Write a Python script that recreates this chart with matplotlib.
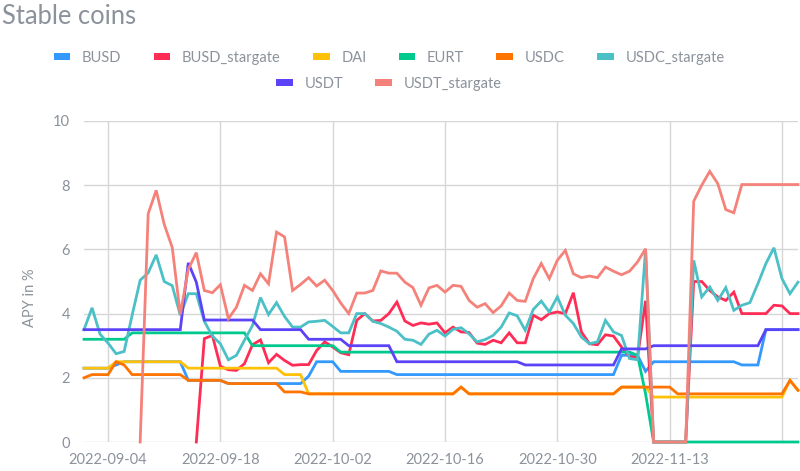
import matplotlib

matplotlib.use("Agg")
import matplotlib.patches as mpatches
import matplotlib.pyplot as plt
import numpy as np
import pandas as pd

nan = np.nan

# daily APY values, 2022-09-01 .. 2022-11-29
dates = pd.date_range("2022-09-01", periods=90, freq="D")

busd = [
    2.3, 2.3, 2.3, 2.3, 2.4, 2.5, 2.5, 2.5, 2.5, 2.5,
    2.5, 2.5, 2.5, 1.92, 1.92, 1.92, 1.92, 1.92, 1.82, 1.82,
    1.82, 1.82, 1.82, 1.82, 1.82, 1.82, 1.82, 1.82, 2.05, 2.5,
    2.5, 2.5, 2.2, 2.2, 2.2, 2.2, 2.2, 2.2, 2.2, 2.1,
    2.1, 2.1, 2.1, 2.1, 2.1, 2.1, 2.1, 2.1, 2.1, 2.1,
    2.1, 2.1, 2.1, 2.1, 2.1, 2.1, 2.1, 2.1, 2.1, 2.1,
    2.1, 2.1, 2.1, 2.1, 2.1, 2.1, 2.1, 2.7, 2.7, 2.7,
    2.2, 2.5, 2.5, 2.5, 2.5, 2.5, 2.5, 2.5, 2.5, 2.5,
    2.5, 2.5, 2.4, 2.4, 2.4, 3.5, 3.5, 3.5, 3.5, 3.5,
]
busd_stargate = [
    nan, nan, nan, nan, nan, nan, nan, nan, nan, nan,
    nan, nan, nan, nan, 0.0, 3.22, 3.32, 2.36, 2.25, 2.23,
    2.44, 3.03, 3.18, 2.47, 2.73, 2.54, 2.39, 2.41, 2.41, 2.85,
    3.12, 2.96, 2.78, 2.72, 3.79, 4.0, 3.77, 3.79, 4.0, 4.36,
    3.77, 3.63, 3.71, 3.67, 3.71, 3.4, 3.58, 3.43, 3.41, 3.08,
    3.04, 3.17, 3.09, 3.4, 3.09, 3.09, 3.95, 3.81, 4.0, 4.05,
    4.0, 4.65, 3.43, 3.06, 3.03, 3.34, 3.3, 2.96, 2.65, 2.65,
    4.4, 0.0, 0.0, 0.0, 0.0, 0.0, 5.0, 5.0, 4.72, 4.52,
    4.41, 4.67, 4.0, 4.0, 4.0, 4.0, 4.26, 4.24, 4.0, 4.0,
]
dai = [
    2.3, 2.3, 2.3, 2.3, 2.5, 2.5, 2.5, 2.5, 2.5, 2.5,
    2.5, 2.5, 2.5, 2.3, 2.3, 2.3, 2.3, 2.3, 2.3, 2.3,
    2.3, 2.3, 2.3, 2.3, 2.3, 2.1, 2.1, 2.1, 1.5, 1.5,
    1.5, 1.5, 1.5, 1.5, 1.5, 1.5, 1.5, 1.5, 1.5, 1.5,
    1.5, 1.5, 1.5, 1.5, 1.5, 1.5, 1.5, 1.71, 1.5, 1.5,
    1.5, 1.5, 1.5, 1.5, 1.5, 1.5, 1.5, 1.5, 1.5, 1.5,
    1.5, 1.5, 1.5, 1.5, 1.5, 1.5, 1.5, 1.71, 1.71, 1.71,
    1.71, 1.4, 1.4, 1.4, 1.4, 1.4, 1.4, 1.4, 1.4, 1.4,
    1.4, 1.4, 1.4, 1.4, 1.4, 1.4, 1.4, 1.4, 1.92, 1.61,
]
eurt = [
    3.2, 3.2, 3.2, 3.2, 3.2, 3.2, 3.4, 3.4, 3.4, 3.4,
    3.4, 3.4, 3.4, 3.4, 3.4, 3.4, 3.4, 3.4, 3.4, 3.4,
    3.4, 3.0, 3.0, 3.0, 3.0, 3.0, 3.0, 3.0, 3.0, 3.0,
    3.0, 3.0, 2.8, 2.8, 2.8, 2.8, 2.8, 2.8, 2.8, 2.8,
    2.8, 2.8, 2.8, 2.8, 2.8, 2.8, 2.8, 2.8, 2.8, 2.8,
    2.8, 2.8, 2.8, 2.8, 2.8, 2.8, 2.8, 2.8, 2.8, 2.8,
    2.8, 2.8, 2.8, 2.8, 2.8, 2.8, 2.8, 2.8, 2.8, 2.7,
    1.5, 0.0, 0.0, 0.0, 0.0, 0.0, 0.0, 0.0, 0.0, 0.0,
    0.0, 0.0, 0.0, 0.0, 0.0, 0.0, 0.0, 0.0, 0.0, 0.0,
]
usdc = [
    2.0, 2.1, 2.1, 2.1, 2.5, 2.4, 2.1, 2.1, 2.1, 2.1,
    2.1, 2.1, 2.1, 1.92, 1.92, 1.92, 1.92, 1.92, 1.82, 1.82,
    1.82, 1.82, 1.82, 1.82, 1.82, 1.56, 1.56, 1.56, 1.5, 1.5,
    1.5, 1.5, 1.5, 1.5, 1.5, 1.5, 1.5, 1.5, 1.5, 1.5,
    1.5, 1.5, 1.5, 1.5, 1.5, 1.5, 1.5, 1.71, 1.5, 1.5,
    1.5, 1.5, 1.5, 1.5, 1.5, 1.5, 1.5, 1.5, 1.5, 1.5,
    1.5, 1.5, 1.5, 1.5, 1.5, 1.5, 1.5, 1.71, 1.71, 1.71,
    1.71, 1.71, 1.71, 1.71, 1.5, 1.5, 1.5, 1.5, 1.5, 1.5,
    1.5, 1.5, 1.5, 1.5, 1.5, 1.5, 1.5, 1.5, 1.92, 1.61,
]
usdc_stargate = [
    3.5, 4.18, 3.36, 3.08, 2.75, 2.82, 3.95, 5.04, 5.27, 5.83,
    5.0, 4.87, 3.95, 4.62, 4.62, 3.76, 3.3, 3.06, 2.56, 2.7,
    3.17, 3.63, 4.5, 3.97, 4.34, 3.91, 3.58, 3.58, 3.74, 3.76,
    3.79, 3.6, 3.4, 3.4, 4.0, 4.0, 3.76, 3.69, 3.58, 3.45,
    3.2, 3.17, 3.04, 3.36, 3.48, 3.3, 3.51, 3.56, 3.37, 3.12,
    3.19, 3.32, 3.58, 4.02, 3.93, 3.48, 4.13, 4.39, 4.05, 4.52,
    3.95, 3.69, 3.27, 3.06, 3.12, 3.79, 3.43, 3.32, 2.6, 2.56,
    6.0, 0.0, 0.0, 0.0, 0.0, 0.0, 5.66, 4.52, 4.83, 4.41,
    4.81, 4.1, 4.26, 4.34, 4.93, 5.56, 6.05, 5.09, 4.62, 4.98,
]
usdt = [
    3.5, 3.5, 3.5, 3.5, 3.5, 3.5, 3.5, 3.5, 3.5, 3.5,
    3.5, 3.5, 3.5, 5.58, 4.98, 3.8, 3.8, 3.8, 3.8, 3.8,
    3.8, 3.8, 3.5, 3.5, 3.5, 3.5, 3.5, 3.5, 3.2, 3.2,
    3.2, 3.2, 3.2, 3.0, 3.0, 3.0, 3.0, 3.0, 3.0, 2.5,
    2.5, 2.5, 2.5, 2.5, 2.5, 2.5, 2.5, 2.5, 2.5, 2.5,
    2.5, 2.5, 2.5, 2.5, 2.5, 2.4, 2.4, 2.4, 2.4, 2.4,
    2.4, 2.4, 2.4, 2.4, 2.4, 2.4, 2.4, 2.9, 2.9, 2.9,
    2.9, 3.0, 3.0, 3.0, 3.0, 3.0, 3.0, 3.0, 3.0, 3.0,
    3.0, 3.0, 3.0, 3.0, 3.0, 3.5, 3.5, 3.5, 3.5, 3.5,
]
usdt_stargate = [
    nan, nan, nan, nan, nan, nan, nan, 0.0, 7.11, 7.84,
    6.78, 6.06, 3.97, 5.38, 5.9, 4.72, 4.65, 4.9, 3.84, 4.2,
    4.88, 4.72, 5.24, 4.93, 6.54, 6.39, 4.72, 4.91, 5.12, 4.86,
    5.04, 4.72, 4.33, 4.0, 4.64, 4.64, 4.72, 5.33, 5.26, 5.26,
    4.98, 4.81, 4.26, 4.8, 4.88, 4.67, 4.88, 4.85, 4.41, 4.2,
    4.31, 4.03, 4.24, 4.64, 4.41, 4.38, 5.09, 5.56, 5.09, 5.66,
    5.97, 5.24, 5.12, 5.17, 5.12, 5.45, 5.32, 5.21, 5.32, 5.61,
    6.02, 0.0, 0.0, 0.0, 0.0, 0.0, 7.5, 8.0, 8.43, 8.05,
    7.24, 7.14, 8.02, 8.02, 8.02, 8.02, 8.02, 8.02, 8.02, 8.02,
]

series_names = ["BUSD", "BUSD_stargate", "DAI", "EURT", "USDC",
                "USDC_stargate", "USDT", "USDT_stargate"]
series_values = [busd, busd_stargate, dai, eurt, usdc,
                 usdc_stargate, usdt, usdt_stargate]
colors = ["#3399ff", "#ff2d55", "#ffc107", "#00c98d", "#ff7400",
          "#4bc0c6", "#5b43f7", "#f5827a"]

x_ticks = pd.date_range("2022-09-04", periods=7, freq="14D")
x_tick_labels = ["2022-09-04", "2022-09-18", "2022-10-02", "2022-10-16",
                 "2022-10-30", "2022-11-13", ""]
y_ticks = [0, 2, 4, 6, 8, 10]

TEXT_GRAY = "#8c929b"
GRID_GRAY = "#d6d6d6"

plt.rcParams["font.family"] = ["Lato", "DejaVu Sans"]

fig = plt.figure(figsize=(8.0, 4.71), dpi=100)
ax = fig.add_axes([84 / 800, 1 - 442 / 471, 714 / 800, 321 / 471])

for name, values, color in zip(series_names, series_values, colors):
    ax.plot(dates, values, color=color, linewidth=2.0, label=name,
            clip_on=False, solid_joinstyle="miter")

ax.set_xlim(dates[0], dates[-1])
ax.set_ylim(0, 10)
ax.set_xticks(x_ticks)
ax.set_xticklabels(x_tick_labels)
ax.set_yticks(y_ticks)

ax.set_axisbelow(True)
ax.grid(True, color=GRID_GRAY, linewidth=1.0)
for spine in ax.spines.values():
    spine.set_visible(False)
ax.tick_params(length=0, colors=TEXT_GRAY, labelsize=10.5)
ax.tick_params(axis="x", pad=8)
ax.tick_params(axis="y", pad=10)

ax.set_ylabel("APY in %", color=TEXT_GRAY, fontsize=10.5)
ax.yaxis.set_label_coords(-0.066, 0.45)

fig.text(0.002, 1 - 16 / 471, "Stable coins", fontsize=18.4, color=TEXT_GRAY,
         ha="left", va="center")

# legend in two rows: six entries, then two
handles = [mpatches.Patch(facecolor=c, edgecolor="none") for c in colors]
legend_kw = dict(frameon=False, loc="center", fontsize=10.5,
                 handlelength=1.15, handleheight=0.4, handletextpad=0.8,
                 columnspacing=2.2, labelcolor=TEXT_GRAY)
fig.legend(handles[:6], series_names[:6], ncol=6,
           bbox_to_anchor=(389 / 800, 1 - 58 / 471), **legend_kw)
fig.legend(handles[6:], series_names[6:], ncol=2,
           bbox_to_anchor=(389 / 800, 1 - 84 / 471), **legend_kw)

fig.savefig("out.png", dpi=100, facecolor="white")
